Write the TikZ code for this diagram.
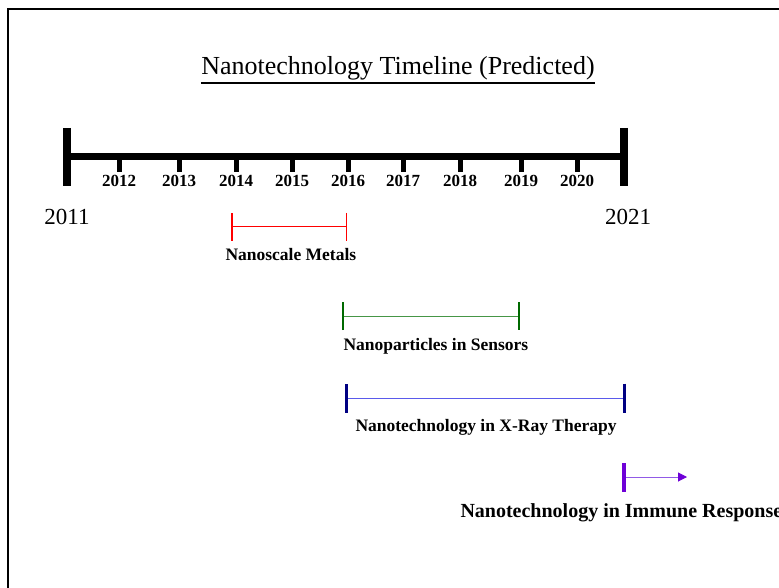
\documentclass[tikz,border=0pt]{standalone}
\usepackage{fontspec}
\setmainfont{Liberation Serif}
\usetikzlibrary{arrows.meta,positioning}

\definecolor{metalred}{RGB}{255,0,0}
\definecolor{sensdark}{RGB}{0,105,0}
\definecolor{sensline}{RGB}{70,150,70}
\definecolor{xraydark}{RGB}{0,0,130}
\definecolor{xrayline}{RGB}{90,90,235}
\definecolor{immdark}{RGB}{110,0,215}
\definecolor{immline}{RGB}{145,90,230}

\tikzset{
  yearlbl/.style={font=\bfseries\fontsize{17}{17}\selectfont,inner sep=0pt},
  endlbl/.style={font=\fontsize{23}{23}\selectfont,inner sep=0pt},
  spanlbl/.style={font=\bfseries\fontsize{17.5}{17.5}\selectfont,inner sep=0pt,anchor=west},
  yeartick/.style={line width=5pt},
}

\begin{document}
\begin{tikzpicture}[x=1pt,y=-1pt,line width=1pt]
  \useasboundingbox (0,0) rectangle (779,588);
  \draw[line width=2pt] (8,9) rectangle (820,620);

  % title
  \node[font=\fontsize{26}{26}\selectfont,inner sep=0pt] (title) at (398,68) {Nanotechnology Timeline (Predicted)};
  \draw[line width=1.5pt] (title.west |- 0,83) -- (title.east |- 0,83);

  % main axis
  \coordinate (t0) at (67,157);
  \coordinate (t10) at (624,157);
  \draw[line width=7pt] (t0) -- (t10);
  \draw[line width=8pt] ([yshift=29pt]t0) -- ([yshift=-29pt]t0);
  \draw[line width=8pt] ([yshift=29pt]t10) -- ([yshift=-29pt]t10);
  \foreach \x/\yr in {119/2012,179/2013,236/2014,292/2015,348/2016,403/2017,460/2018,521/2019,577/2020}{
    \draw[yeartick] (\x,157) -- (\x,172);
    \node[yearlbl] (y\yr) at (\x,181) {\yr};
  }
  \node[endlbl] (y2011) at (67,217) {2011};
  \node[endlbl] (y2021) at (628,217) {2021};

  % spans
  \coordinate (metA) at (231,227);
  \coordinate (metB) at (347,227);
  \draw[metalred,{Bar[width=28pt,line width=1.5pt]}-{Bar[width=28pt,line width=1.5pt]}] (metA) -- (metB);
  \node[spanlbl] (metals) at (225,255) {Nanoscale Metals};

  \coordinate (senA) at (342,316);
  \coordinate (senB) at (520,316);
  \draw[sensline,{Bar[width=28pt,line width=2pt,color=sensdark]}-{Bar[width=28pt,line width=2pt,color=sensdark]}] (senA) -- (senB);
  \node[spanlbl] (sensors) at (343,346) {Nanoparticles in Sensors};

  \coordinate (xrA) at (345,398);
  \coordinate (xrB) at (626,398);
  \draw[xrayline,{Bar[width=29pt,line width=3pt,color=xraydark]}-{Bar[width=29pt,line width=3pt,color=xraydark]}] (xrA) -- (xrB);
  \node[spanlbl] (xray) at (355,427) {Nanotechnology in X-Ray Therapy};

  \coordinate (imA) at (622,477);
  \coordinate (imB) at (687,477);
  \draw[immline,{Bar[width=29pt,line width=4pt,color=immdark]}-{Triangle[length=9pt,width=9pt,color=immdark]}] (imA) -- (imB);
  \node[spanlbl,font=\bfseries\fontsize{20}{20}\selectfont] (immune) at (460,513) {Nanotechnology in Immune Response};
\end{tikzpicture}
\end{document}
